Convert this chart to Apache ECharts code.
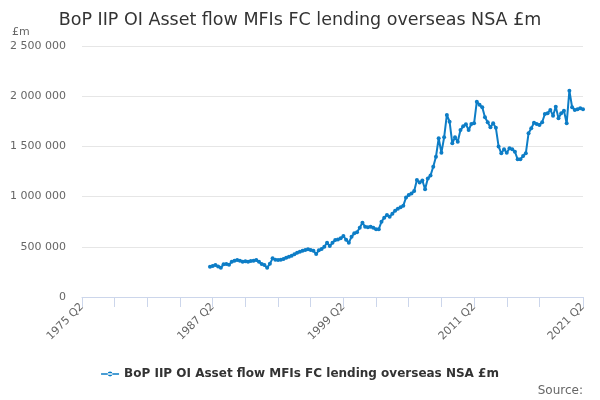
<!DOCTYPE html>
<html>
	<head>
		<meta charset="utf-8" />
		<title>BoP IIP OI Asset flow</title>
		<style type="text/css">
			body,
			html,
			#chart {
				width: 100%;
				height: 100%;
				overflow: hidden;
				margin: 0;
				background: #fff;
			}
		</style>
	</head>
	<body>
		<div id="chart"></div>
		<script src="https://cdn.jsdelivr.net/npm/echarts@6/dist/echarts.min.js"></script>
		<script>
			// 1975 Q2 .. 2021 Q2, quarterly
			var firstYear = 1975;
			var firstQuarter = 2;
			var quarterCount = 185;
			// series begins 1987 Q1
			var seriesStart = '1987 Q1';
			var seriesName = 'BoP IIP OI Asset flow MFIs FC lending overseas NSA £m';
			// £m, 1987 Q1 .. 2021 Q2
			var values = [
				302000, 310000, 319000, 305000,
				292000, 325000, 329000, 322000,
				350000, 362000, 368000, 360000,
				352000, 355000, 352000, 358000,
				362000, 368000, 350000, 329000,
				319000, 292000, 330000, 385000,
				372000, 368000, 372000, 378000,
				392000, 401000, 412000, 425000,
				440000, 451000, 460000, 468000,
				475000, 468000, 461000, 428000,
				465000, 478000, 500000, 541000,
				508000, 540000, 568000, 572000,
				585000, 608000, 570000, 541000,
				600000, 634000, 645000, 690000,
				740000, 700000, 694000, 700000,
				690000, 674000, 676000, 750000,
				790000, 817000, 800000, 830000,
				860000, 880000, 895000, 910000,
				990000, 1016000, 1030000, 1055000,
				1165000, 1140000, 1160000, 1073000,
				1180000, 1210000, 1298000, 1397000,
				1581000, 1437000, 1590000, 1813000,
				1746000, 1531000, 1590000, 1547000,
				1663000, 1700000, 1720000, 1663000,
				1723000, 1730000, 1945000, 1915000,
				1890000, 1790000, 1740000, 1690000,
				1730000, 1685000, 1500000, 1431000,
				1471000, 1437000, 1481000, 1471000,
				1447000, 1371000, 1371000, 1404000,
				1431000, 1630000, 1680000, 1736000,
				1723000, 1713000, 1740000, 1823000,
				1830000, 1863000, 1806000, 1896000,
				1780000, 1830000, 1856000, 1730000,
				2055000, 1890000, 1863000, 1870000,
				1880000, 1870000
			];

			var quarters = [];
			for (var i = 0; i < quarterCount; i++) {
				var q = firstQuarter - 1 + i;
				quarters.push((firstYear + Math.floor(q / 4)) + ' Q' + (q % 4 + 1));
			}
			var offset = quarters.indexOf(seriesStart);
			var data = quarters.map(function (c, i) {
				var v = values[i - offset];
				return v === undefined ? null : v;
			});
			var last = quarterCount - 1;

			function spaced(v) {
				return String(v).replace(/\B(?=(\d{3})+(?!\d))/g, ' ');
			}

			var chart = echarts.init(document.getElementById('chart'));
			chart.setOption({
				animation: false,
				textStyle: { fontFamily: 'DejaVu Sans' },
				title: [
					{
						text: seriesName,
						left: 'center',
						top: 6,
						textStyle: { fontSize: 17.5, fontWeight: 'normal', color: '#333' }
					},
					{
						text: 'Source:',
						right: 12,
						top: 380,
						textStyle: { fontSize: 12, fontWeight: 'normal', color: '#666' }
					}
				],
				legend: {
					bottom: 15,
					left: 'center',
					itemWidth: 18,
					itemHeight: 10,
					icon: 'path://M0,4.3h18v1.4h-18z M9,2.6a2.4,2.4 0 1 0 0.01,0z',
					textStyle: { fontSize: 12, fontWeight: 'bold', color: '#333' },
					data: [seriesName]
				},
				grid: { left: 82, right: 17, top: 46, bottom: 103 },
				xAxis: {
					type: 'category',
					data: quarters,
					boundaryGap: false,
					axisLine: { lineStyle: { color: '#ccd6eb' } },
					axisTick: {
						length: 10,
						lineStyle: { color: '#ccd6eb' },
						interval: function (i) {
							return (i % 12 === 0 && i < 180) || i === last;
						}
					},
					axisLabel: {
						rotate: 45,
						color: '#666',
						fontSize: 11,
						margin: 8,
						interval: function (i) {
							return i % 48 === 0 || i === last;
						}
					}
				},
				yAxis: {
					type: 'value',
					min: 0,
					max: 2500000,
					interval: 500000,
					name: '£m',
					nameLocation: 'end',
					nameGap: 8,
					nameTextStyle: { color: '#666', fontSize: 11, align: 'left', padding: [0, 0, 0, -70] },
					axisLine: { show: false },
					axisTick: { show: false },
					splitLine: { lineStyle: { color: '#e6e6e6' } },
					axisLabel: {
						color: '#666',
						fontSize: 11,
						margin: 16,
						formatter: spaced
					}
				},
				series: [
					{
						name: seriesName,
						type: 'line',
						data: data,
						color: '#0d7dc6',
						symbol: 'circle',
						symbolSize: 4,
						showAllSymbol: true,
						lineStyle: { width: 2 },
						connectNulls: false
					}
				]
			});
		</script>
	</body>
</html>
